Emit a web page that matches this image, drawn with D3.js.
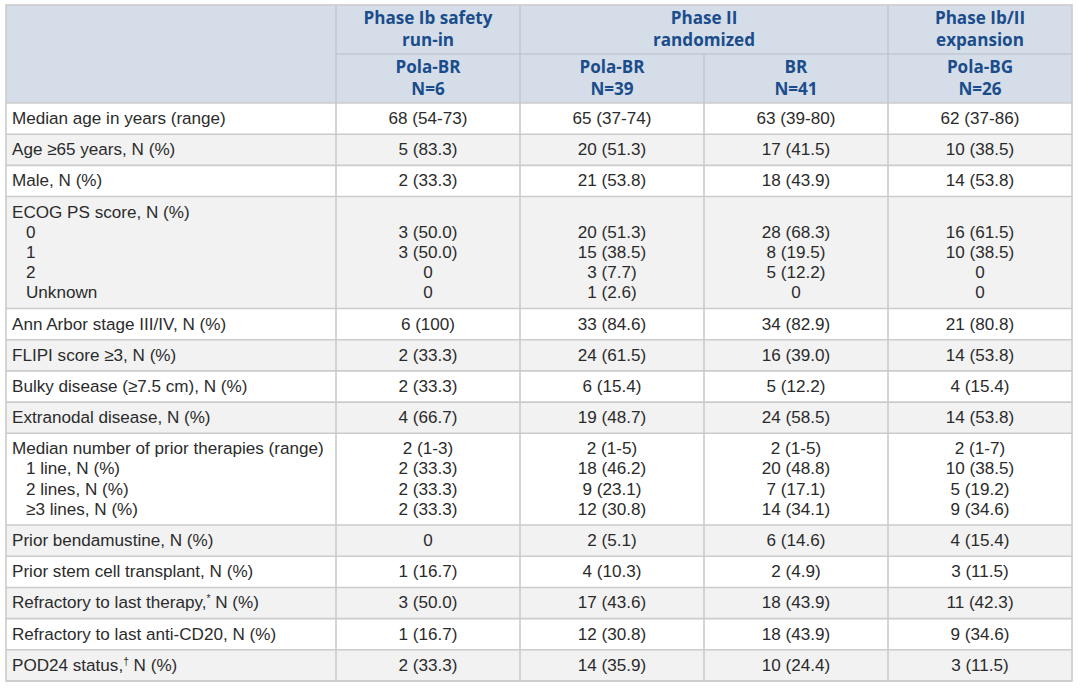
<!DOCTYPE html>
<html><head><meta charset="utf-8">
<script src="https://cdn.jsdelivr.net/npm/d3@7"></script>
<style>
html,body{margin:0;padding:0;background:#fff;}
svg{display:block;}
</style></head>
<body>
<svg id="chart" width="1080" height="688"></svg>
<script>
// ---------- DATA ----------
const groupLabels = [["Phase Ib safety","run-in"],["Phase II","randomized"],["Phase Ib/II","expansion"]];
const groupSpans = [1,2,1];
const armNames = ["Pola-BR","Pola-BR","BR","Pola-BG"];
const armSizes = ["N=6","N=39","N=41","N=26"];

const rowLabels = [
  ["Median age in years (range)"],
  ["Age \u226565 years, N (%)"],
  ["Male, N (%)"],
  ["ECOG PS score, N (%)","  0","  1","  2","  Unknown"],
  ["Ann Arbor stage III/IV, N (%)"],
  ["FLIPI score \u22653, N (%)"],
  ["Bulky disease (\u22657.5 cm), N (%)"],
  ["Extranodal disease, N (%)"],
  ["Median number of prior therapies (range)","  1 line, N (%)","  2 lines, N (%)","  \u22653 lines, N (%)"],
  ["Prior bendamustine, N (%)"],
  ["Prior stem cell transplant, N (%)"],
  ["Refractory to last therapy,^* N (%)"],
  ["Refractory to last anti-CD20, N (%)"],
  ["POD24 status,^\u2020 N (%)"]
];

const polaBRIb = [["68 (54-73)"],["5 (83.3)"],["2 (33.3)"],["","3 (50.0)","3 (50.0)","0","0"],["6 (100)"],["2 (33.3)"],["2 (33.3)"],["4 (66.7)"],["2 (1-3)","2 (33.3)","2 (33.3)","2 (33.3)"],["0"],["1 (16.7)"],["3 (50.0)"],["1 (16.7)"],["2 (33.3)"]];
const polaBRII = [["65 (37-74)"],["20 (51.3)"],["21 (53.8)"],["","20 (51.3)","15 (38.5)","3 (7.7)","1 (2.6)"],["33 (84.6)"],["24 (61.5)"],["6 (15.4)"],["19 (48.7)"],["2 (1-5)","18 (46.2)","9 (23.1)","12 (30.8)"],["2 (5.1)"],["4 (10.3)"],["17 (43.6)"],["12 (30.8)"],["14 (35.9)"]];
const brII = [["63 (39-80)"],["17 (41.5)"],["18 (43.9)"],["","28 (68.3)","8 (19.5)","5 (12.2)","0"],["34 (82.9)"],["16 (39.0)"],["5 (12.2)"],["24 (58.5)"],["2 (1-5)","20 (48.8)","7 (17.1)","14 (34.1)"],["6 (14.6)"],["2 (4.9)"],["18 (43.9)"],["18 (43.9)"],["10 (24.4)"]];
const polaBG = [["62 (37-86)"],["10 (38.5)"],["14 (53.8)"],["","16 (61.5)","10 (38.5)","0","0"],["21 (80.8)"],["14 (53.8)"],["4 (15.4)"],["14 (53.8)"],["2 (1-7)","10 (38.5)","5 (19.2)","9 (34.6)"],["4 (15.4)"],["3 (11.5)"],["11 (42.3)"],["9 (34.6)"],["3 (11.5)"]];
const armValues = [polaBRIb, polaBRII, brII, polaBG];

// ---------- LAYOUT ----------
const X0 = 6, X1 = 1072, LABEL_END = 336;
const Y0 = 5, HEAD1 = 54, HEAD2 = 103, Y1 = 681;
const ROW_BASE = 31.2, LINE_STEP = 20.2;
const headerBg = "#d5dee8", headerText = "#1b4c8b", border = "#cbcbcb", headBorder = "#bfc8d2";
const zebra = "#f2f2f2", textCol = "#2b2b2b";
const dataFont = "'Liberation Sans', Arial, sans-serif";
const headFont = "'Open Sans', sans-serif";
const dataSize = 17.1, headSize = 17.1;

const svg = d3.select("#chart");

const xArm = d3.scaleBand().domain(d3.range(armNames.length)).range([LABEL_END, X1]).padding(0);

// row heights
const heights = rowLabels.map(r => ROW_BASE + (r.length - 1) * LINE_STEP);
const tops = [HEAD2];
heights.forEach((h,i) => tops.push(tops[i] + h));
const yRow = d3.scaleOrdinal().domain(d3.range(rowLabels.length)).range(tops.slice(0,-1));
const yEnd = tops[tops.length-1];
const ySc = d3.scaleLinear().domain([HEAD2, yEnd]).range([HEAD2, Y1]);

// header background
svg.append("rect").attr("x", X0).attr("y", Y0).attr("width", X1 - X0).attr("height", HEAD2 - Y0).attr("fill", headerBg);

// row backgrounds
const rows = svg.append("g");
rowLabels.forEach((r,i) => {
  const top = ySc(yRow(i)), bot = ySc(tops[i+1]);
  rows.append("rect").attr("x", X0).attr("y", top).attr("width", X1 - X0).attr("height", bot - top)
    .attr("fill", i % 2 === 1 ? zebra : "#fff");
});

// header group labels
let col = 0;
groupLabels.forEach((g,i) => {
  const x0 = xArm(col), x1 = xArm(col + groupSpans[i] - 1) + xArm.bandwidth();
  const t = svg.append("text").attr("text-anchor","middle").attr("font-family", headFont)
    .attr("font-weight", 700).attr("font-size", headSize).attr("fill", headerText);
  g.forEach((line,j) => t.append("tspan").attr("x", (x0+x1)/2).attr("y", 24 + j*22).text(line));
  col += groupSpans[i];
});
armNames.forEach((a,i) => {
  const cx = xArm(i) + xArm.bandwidth()/2;
  const t = svg.append("text").attr("text-anchor","middle").attr("font-family", headFont)
    .attr("font-weight", 700).attr("font-size", headSize).attr("fill", headerText);
  t.append("tspan").attr("x", cx).attr("y", 73).text(a);
  t.append("tspan").attr("x", cx).attr("y", 95).text(armSizes[i]);
});

// body text
function addLabel(g, str, x, y) {
  const indent = str.startsWith("  ");
  const s = str.replace(/^  /, "");
  const t = g.append("text").attr("x", x + (indent ? 14 : 0)).attr("y", y)
    .attr("font-family", dataFont).attr("font-size", dataSize).attr("fill", textCol);
  const m = s.split("^");
  if (m.length === 1) { t.text(s); return; }
  t.append("tspan").text(m[0]);
  t.append("tspan").attr("font-size", dataSize*0.6).attr("dy", -6).text(m[1][0]);
  t.append("tspan").attr("dy", 6).text(m[1].slice(1));
}
const body = svg.append("g");
rowLabels.forEach((r,i) => {
  const top = ySc(yRow(i));
  r.forEach((line,j) => addLabel(body, line, 12, top + 21 + j*LINE_STEP));
  armValues.forEach((arm,k) => {
    const cx = xArm(k) + xArm.bandwidth()/2;
    arm[i].forEach((v,j) => {
      if (!v) return;
      body.append("text").attr("x", cx).attr("y", top + 21 + j*LINE_STEP).attr("text-anchor","middle")
        .attr("font-family", dataFont).attr("font-size", dataSize).attr("fill", textCol).text(v);
    });
  });
});

// grid lines
const lines = svg.append("g").attr("stroke-width", 1.6).attr("fill","none");
lines.append("line").attr("x1", LABEL_END).attr("x2", X1).attr("y1", HEAD1).attr("y2", HEAD1).attr("stroke", headBorder);
[0,1,3].forEach(c => lines.append("line").attr("x1", xArm(c)).attr("x2", xArm(c)).attr("y1", Y0).attr("y2", HEAD2).attr("stroke", headBorder));
lines.append("line").attr("x1", xArm(2)).attr("x2", xArm(2)).attr("y1", HEAD1).attr("y2", HEAD2).attr("stroke", headBorder);
tops.forEach(t => {
  lines.append("line").attr("x1", X0).attr("x2", X1).attr("y1", ySc(t)).attr("y2", ySc(t)).attr("stroke", border);
});
d3.range(armNames.length).forEach(c => lines.append("line").attr("x1", xArm(c)).attr("x2", xArm(c)).attr("y1", HEAD2).attr("y2", Y1).attr("stroke", border));
lines.append("rect").attr("x", X0).attr("y", Y0).attr("width", X1 - X0).attr("height", Y1 - Y0).attr("stroke", border);
</script>
</body></html>
